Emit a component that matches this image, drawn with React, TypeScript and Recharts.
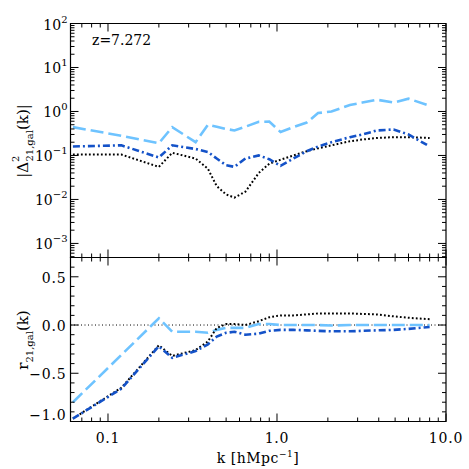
import React from "react";
import { LineChart, Line, XAxis, YAxis, ReferenceLine, ReferenceArea } from "recharts";

// k bins shared by every curve (h/Mpc)
const kValues = [
  0.062, 0.12, 0.2, 0.24, 0.33, 0.39, 0.44, 0.5, 0.56, 0.65, 0.78, 0.9,
  1.05, 1.25, 1.5, 1.75, 2.1, 2.7, 3.2, 3.9, 4.9, 6.0, 8.0,
];

// |Delta^2_21,gal(k)|
const powLight = [
  0.44, 0.28, 0.19, 0.44, 0.2, 0.5, 0.45, 0.4, 0.37, 0.45, 0.58, 0.59,
  0.34, 0.44, 0.56, 0.92, 1.0, 1.4, 1.6, 1.85, 1.6, 1.95, 1.35,
];
const powDark = [
  0.16, 0.17, 0.09, 0.17, 0.14, 0.12, 0.085, 0.06, 0.055, 0.085, 0.1, 0.082,
  0.058, 0.085, 0.125, 0.16, 0.2, 0.26, 0.3, 0.37, 0.39, 0.3, 0.16,
];
const powBlack = [
  0.105, 0.105, 0.055, 0.115, 0.085, 0.05, 0.02, 0.013, 0.011, 0.015, 0.04, 0.065,
  0.08, 0.1, 0.125, 0.145, 0.17, 0.21, 0.23, 0.25, 0.26, 0.26, 0.25,
];

// r_21,gal(k)
const corrLight = [
  -0.8, -0.31, 0.07, -0.07, -0.07, -0.08, -0.05, -0.03, -0.03, -0.03, 0.01, 0.01,
  0.0, 0.0, 0.0, 0.0, -0.005, 0.0, 0.0, 0.0, 0.0, 0.0, 0.0,
];
const corrDark = [
  -0.97, -0.66, -0.22, -0.34, -0.27, -0.2, -0.12, -0.08, -0.07, -0.1, -0.09, -0.06,
  -0.05, -0.05, -0.055, -0.06, -0.065, -0.065, -0.06, -0.055, -0.05, -0.04, -0.02,
];
const corrBlack = [
  -0.97, -0.65, -0.21, -0.32, -0.26, -0.17, -0.03, 0.01, 0.01, 0.0, 0.04, 0.08,
  0.1, 0.1, 0.11, 0.12, 0.12, 0.12, 0.115, 0.11, 0.09, 0.075, 0.06,
];

// ticks
const xMajor = [0.1, 1, 10];
const xMajorLabels = ["0.1", "1.0", "10.0"];
const xMinor = [0.07, 0.08, 0.09, 0.2, 0.3, 0.4, 0.5, 0.6, 0.7, 0.8, 0.9, 2, 3, 4, 5, 6, 7, 8, 9];
const powMajorExp = [-3, -2, -1, 0, 1, 2];
const corrMajor = [-1, -0.5, 0, 0.5];
const corrMajorLabels = ["\u22121.0", "\u22120.5", "0.0", "0.5"];
const corrMinor = [-0.9, -0.8, -0.7, -0.6, -0.4, -0.3, -0.2, -0.1, 0.1, 0.2, 0.3, 0.4, 0.6, 0.7];

const X_DOMAIN = [0.06, 10];
const POW_DOMAIN = [Math.pow(10, -3.32), 100];
const CORR_DOMAIN = [-1, 0.7];

const powMajor = powMajorExp.map((e) => Math.pow(10, e));
const powMinor: number[] = [];
[-4, -3, -2, -1, 0, 1].forEach((e) => {
  for (let m = 2; m <= 9; m++) {
    const v = m * Math.pow(10, e);
    if (v > POW_DOMAIN[0] && v < POW_DOMAIN[1]) powMinor.push(v);
  }
});

const FONT = "DejaVu Serif";
const LIGHT = "#6ec3ff";
const DARK = "#1452c8";
const PLOT_W = 375.5;
const TOP_H = 234;
const BOT_H = 164;

const close = (a: number, b: number) => Math.abs(a - b) < 1e-9 * Math.max(1, Math.abs(b));

const XTick = ({ x, y, payload, plotH, labels }: any) => {
  const v = payload.value;
  const mi = xMajor.findIndex((m) => close(m, v));
  const len = mi >= 0 ? 8 : 4;
  return (
    <g>
      <line x1={x} y1={y} x2={x} y2={y - len} stroke="#000" strokeWidth={1} />
      <line x1={x} y1={y - plotH} x2={x} y2={y - plotH + len} stroke="#000" strokeWidth={1} />
      {labels && mi >= 0 ? (
        <text x={x} y={y + 21.5} textAnchor="middle" fontFamily={FONT} fontSize={14} letterSpacing={0.8} fill="#000">
          {xMajorLabels[mi]}
        </text>
      ) : null}
    </g>
  );
};

const PowTick = ({ x, y, payload }: any) => {
  const v = payload.value;
  const mi = powMajor.findIndex((m) => close(m, v));
  const len = mi >= 0 ? 8 : 4;
  const e = mi >= 0 ? powMajorExp[mi] : 0;
  return (
    <g>
      <line x1={x} y1={y} x2={x + len} y2={y} stroke="#000" strokeWidth={1} />
      <line x1={x + PLOT_W} y1={y} x2={x + PLOT_W - len} y2={y} stroke="#000" strokeWidth={1} />
      {mi >= 0 ? (
        <text x={x - 3} y={y + 6} textAnchor="end" fontFamily={FONT} fontSize={14} fill="#000">
          10
          <tspan dy={-7} fontSize={10}>
            {e < 0 ? "\u2212" + Math.abs(e) : String(e)}
          </tspan>
        </text>
      ) : null}
    </g>
  );
};

const CorrTick = ({ x, y, payload }: any) => {
  const v = payload.value;
  const mi = corrMajor.findIndex((m) => close(m, v));
  const len = mi >= 0 ? 8 : 4;
  return (
    <g>
      <line x1={x} y1={y} x2={x + len} y2={y} stroke="#000" strokeWidth={1} />
      <line x1={x + PLOT_W} y1={y} x2={x + PLOT_W - len} y2={y} stroke="#000" strokeWidth={1} />
      {mi >= 0 ? (
        <text x={x - 4} y={y + (v === -1 ? -2 : 6)} textAnchor="end" fontFamily={FONT} fontSize={14} letterSpacing={0.8} fill="#000">
          {corrMajorLabels[mi]}
        </text>
      ) : null}
    </g>
  );
};

export default function App() {
  const topRows = kValues.map((k, i) => ({ k, light: powLight[i], dark: powDark[i], black: powBlack[i] }));
  const botRows = kValues.map((k, i) => ({ k, light: corrLight[i], dark: corrDark[i], black: corrBlack[i] }));

  return (
    <div style={{ position: "absolute", left: 0, top: 0, width: 469, height: 469, background: "#fff" }}>
      <div style={{ position: "absolute", left: 0, top: 0 }}>
        <LineChart width={469} height={260} data={topRows} margin={{ top: 23.5, right: 23, bottom: 1.5, left: 69.5 }}>
          <XAxis
            dataKey="k"
            type="number"
            scale="log"
            domain={X_DOMAIN}
            allowDataOverflow
            ticks={[...xMajor, ...xMinor]}
            interval={0}
            height={1}
            tickSize={0}
            tickMargin={0}
            axisLine={false}
            tick={(p: any) => <XTick {...p} plotH={TOP_H} labels={false} />}
          />
          <YAxis
            type="number"
            scale="log"
            domain={POW_DOMAIN}
            allowDataOverflow
            ticks={[...powMajor, ...powMinor]}
            interval={0}
            width={1}
            tickSize={0}
            tickMargin={0}
            axisLine={false}
            tick={(p: any) => <PowTick {...p} />}
            label={{
              content: () => (
                <text
                  x={28}
                  y={141}
                  transform="rotate(-90 28 141)"
                  textAnchor="middle"
                  fontFamily={FONT}
                  fontSize={15}
                  fill="#000"
                >
                  |Δ
                  <tspan dy={-9} fontSize={10}>2</tspan>
                  <tspan dx={-6} dy={14} fontSize={10}>21,gal</tspan>
                  <tspan dy={-5}>(k)|</tspan>
                </text>
              ),
            }}
          />
          <ReferenceArea x1={X_DOMAIN[0]} x2={X_DOMAIN[1]} y1={POW_DOMAIN[0]} y2={POW_DOMAIN[1]} fill="none" stroke="#000" strokeWidth={1.2} ifOverflow="visible" />
          <Line dataKey="light" stroke={LIGHT} strokeWidth={2.6} strokeDasharray="13 5" dot={false} isAnimationActive={false} />
          <Line dataKey="black" stroke="#000" strokeWidth={2} strokeDasharray="1.8 2.2" dot={false} isAnimationActive={false} />
          <Line dataKey="dark" stroke={DARK} strokeWidth={2.6} strokeDasharray="7 3 2 3" dot={false} isAnimationActive={false} />
          <ReferenceLine
            y={POW_DOMAIN[1]}
            stroke="none"
            label={{
              content: () => (
                <text x={92} y={45} fontFamily={FONT} fontSize={14} fill="#000">
                  z=7.272
                </text>
              ),
            }}
          />
        </LineChart>
      </div>
      <div style={{ position: "absolute", left: 0, top: 257 }}>
        <LineChart width={469} height={212} data={botRows} margin={{ top: 0.5, right: 23, bottom: 46.5, left: 69.5 }}>
          <XAxis
            dataKey="k"
            type="number"
            scale="log"
            domain={X_DOMAIN}
            allowDataOverflow
            ticks={[...xMajor, ...xMinor]}
            interval={0}
            height={1}
            tickSize={0}
            tickMargin={0}
            axisLine={false}
            tick={(p: any) => <XTick {...p} plotH={BOT_H} labels />}
            label={{
              content: () => (
                <text x={258} y={206} textAnchor="middle" fontFamily={FONT} fontSize={14} letterSpacing={0.5} fill="#000">
                  k [hMpc
                  <tspan dy={-6} fontSize={9}>−1</tspan>
                  <tspan dy={6}>]</tspan>
                </text>
              ),
            }}
          />
          <YAxis
            type="number"
            domain={CORR_DOMAIN}
            allowDataOverflow
            ticks={[...corrMajor, ...corrMinor]}
            interval={0}
            width={1}
            tickSize={0}
            tickMargin={0}
            axisLine={false}
            tick={(p: any) => <CorrTick {...p} />}
            label={{
              content: () => (
                <text
                  x={28}
                  y={83}
                  transform="rotate(-90 28 83)"
                  textAnchor="middle"
                  fontFamily={FONT}
                  fontSize={15}
                  fill="#000"
                >
                  r
                  <tspan dy={5} fontSize={10}>21,gal</tspan>
                  <tspan dy={-5}>(k)</tspan>
                </text>
              ),
            }}
          />
          <ReferenceArea x1={X_DOMAIN[0]} x2={X_DOMAIN[1]} y1={CORR_DOMAIN[0]} y2={CORR_DOMAIN[1]} fill="none" stroke="#000" strokeWidth={1.2} ifOverflow="visible" />
          <ReferenceLine y={0} stroke="#000" strokeWidth={1} strokeDasharray="1 2.5" />
          <Line dataKey="light" stroke={LIGHT} strokeWidth={2.6} strokeDasharray="13 5" dot={false} isAnimationActive={false} />
          <Line dataKey="black" stroke="#000" strokeWidth={2} strokeDasharray="1.8 2.2" dot={false} isAnimationActive={false} />
          <Line dataKey="dark" stroke={DARK} strokeWidth={2.6} strokeDasharray="7 3 2 3" dot={false} isAnimationActive={false} />
        </LineChart>
      </div>
    </div>
  );
}
